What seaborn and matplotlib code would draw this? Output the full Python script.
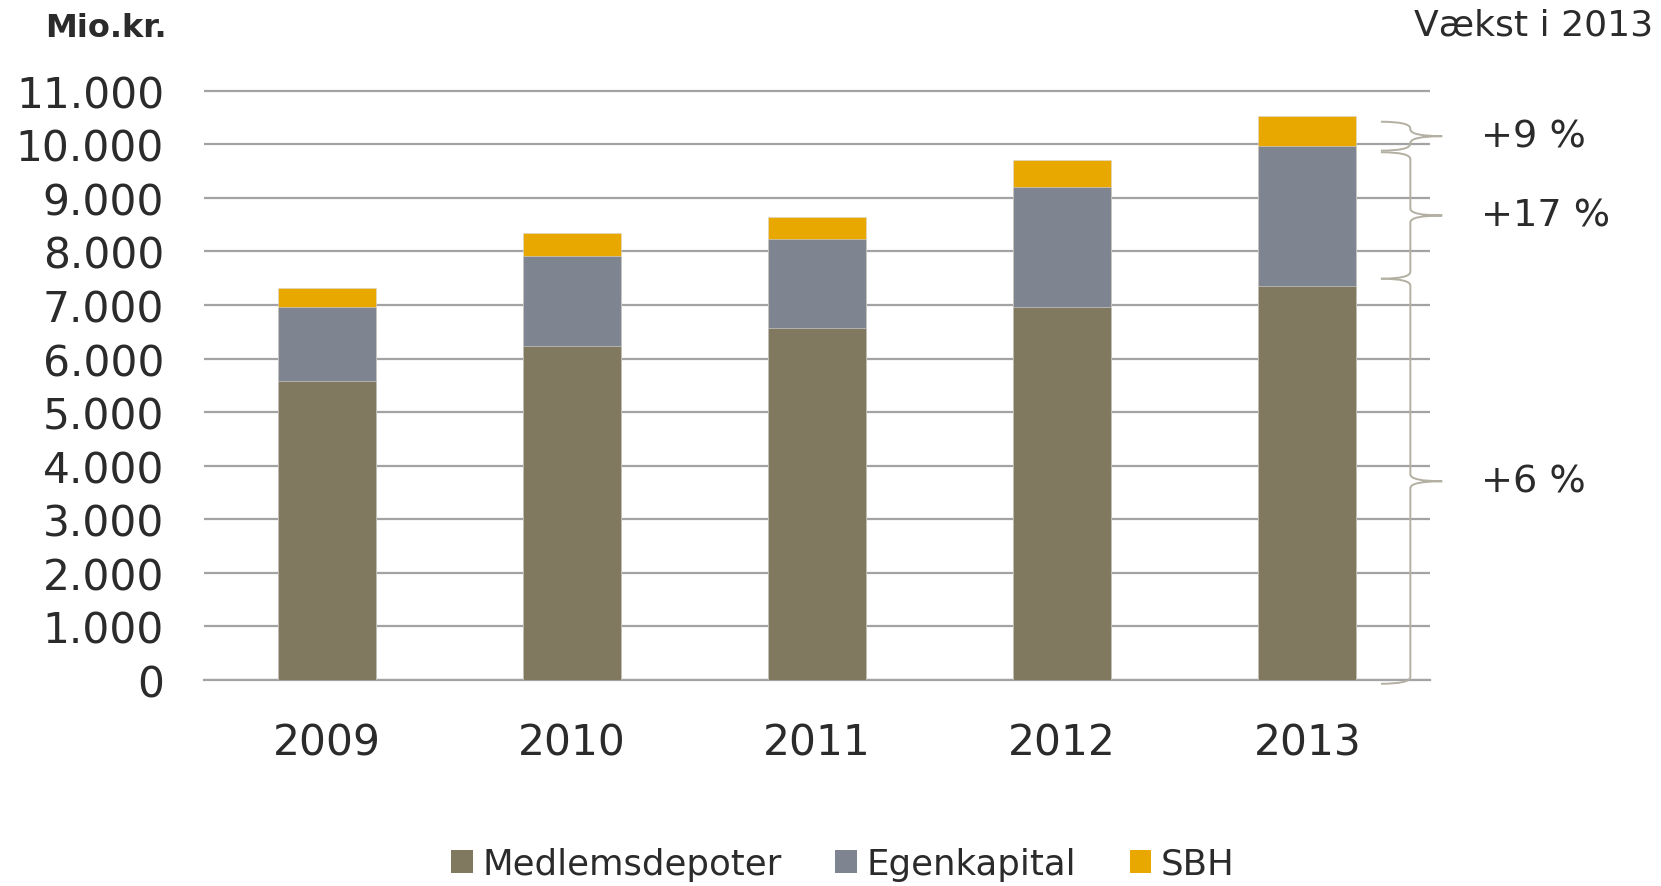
import matplotlib
matplotlib.use("Agg")
import matplotlib.pyplot as plt
from matplotlib.patches import Patch, PathPatch
from matplotlib.path import Path
import seaborn as sns

# data (mio. kr.)
years = ["2009", "2010", "2011", "2012", "2013"]
medlemsdepoter = [5590, 6230, 6565, 6970, 7360]
egenkapital = [1370, 1690, 1665, 2240, 2610]
sbh = [350, 420, 420, 500, 560]
series_names = ["Medlemsdepoter", "Egenkapital", "SBH"]
growth_labels = ["+6 %", "+17 %", "+9 %"]
yticks = list(range(0, 11001, 1000))
ytick_labels = ["0", "1.000", "2.000", "3.000", "4.000", "5.000",
                "6.000", "7.000", "8.000", "9.000", "10.000", "11.000"]

colors = ["#80785F", "#7F8590", "#E8A800"]
text_color = "#2B2B2B"
grid_color = "#A3A3A3"
brace_color = "#B3B0A2"

sns.set_theme(style="white")
plt.rcParams["font.family"] = ["DejaVu Sans"]

fig = plt.figure(figsize=(16.61, 8.87), dpi=100)
ax = fig.add_axes([0.1231, 0.2322, 0.8609 - 0.1231, 0.8997 - 0.2322])

lvl1 = medlemsdepoter
lvl2 = [a + b for a, b in zip(medlemsdepoter, egenkapital)]
lvl3 = [a + b for a, b in zip(lvl2, sbh)]

# stacked bars drawn back to front
for vals, col in zip([lvl3, lvl2, lvl1], colors[::-1]):
    sns.barplot(x=years, y=vals, color=col, width=0.4, saturation=1,
                errorbar=None, ax=ax, zorder=3, edgecolor="#D8D8D8", linewidth=0.4)

ax.set_xlim(-0.5, 4.5)
ax.set_ylim(0, 11050)
ax.set_yticks(yticks)
ax.set_yticklabels(ytick_labels)
ax.set_xlabel("")
ax.set_ylabel("")
ax.grid(axis="y", color=grid_color, linewidth=1.6, zorder=0)
ax.grid(axis="x", visible=False)
for s in ["top", "left", "right"]:
    ax.spines[s].set_visible(False)
ax.spines["bottom"].set_color(grid_color)
ax.spines["bottom"].set_linewidth(1.6)
ax.tick_params(axis="y", length=0, pad=29, labelsize=30.5, labelcolor=text_color)
ax.tick_params(axis="x", length=0, pad=29.5, labelsize=30.5, labelcolor=text_color)


def brace(y0, y1, xl=4.30, xs=4.42, xt=4.55, r=130):
    ym = (y0 + y1) / 2
    verts = [(xl, y1), (xs, y1), (xs, y1 - r),
             (xs, ym + r),
             (xs, ym), (xt, ym),
             (xs, ym), (xs, ym - r),
             (xs, y0 + r),
             (xs, y0), (xl, y0)]
    codes = [Path.MOVETO, Path.CURVE3, Path.CURVE3,
             Path.LINETO,
             Path.CURVE3, Path.CURVE3,
             Path.CURVE3, Path.CURVE3,
             Path.LINETO,
             Path.CURVE3, Path.CURVE3]
    ax.add_patch(PathPatch(Path(verts, codes), fill=False, edgecolor=brace_color,
                           linewidth=1.4, clip_on=False, zorder=4))
    return ym


spans = [(-70, lvl1[-1] + 130),
         (lvl1[-1] + 130, lvl2[-1] - 120),
         (lvl2[-1] - 90, lvl3[-1] - 110)]
for (y0, y1), lab in zip(spans, growth_labels):
    ym = brace(y0, y1)
    ax.text(4.709, ym, lab, fontsize=27.5, color=text_color, ha="left", va="center")

fig.text(0.0271, 0.968, "Mio.kr.", fontsize=23, fontweight="bold",
         color=text_color, ha="left", va="center")
fig.text(0.9952, 0.9707, "Vækst i 2013", fontsize=26, color=text_color,
         ha="right", va="center")

handles = [Patch(facecolor=c, edgecolor="none") for c in colors]
fig.legend(handles, series_names, loc="center", bbox_to_anchor=(0.5075, 0.025),
           ncol=3, frameon=False, fontsize=25.6, handlelength=0.6, handleheight=0.6,
           handletextpad=0.28, columnspacing=1.5, borderpad=0, labelcolor=text_color)

fig.savefig("out.png", dpi=100)
